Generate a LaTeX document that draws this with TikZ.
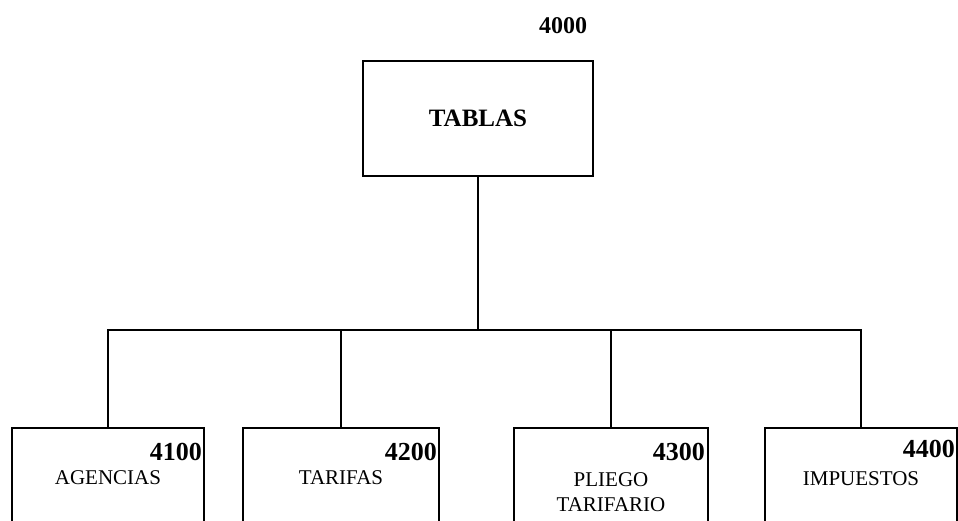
\documentclass[tikz,border=0pt]{standalone}
\usepackage{fontspec}
\setmainfont{Liberation Serif}
\begin{document}
\begin{tikzpicture}[x=1pt,y=1pt,
  box/.style={draw=black,line width=2pt,rectangle,inner sep=0pt,align=center},
  lbl/.style={font=\fontsize{21}{25}\selectfont},
  num/.style={font=\bfseries\fontsize{26}{30}\selectfont,inner sep=0pt,anchor=base east},
  conn/.style={draw=black,line width=2pt}]
\useasboundingbox (0,0) rectangle (958,520);
\clip (0,0) rectangle (958,520);
\fill[white] (0,0) rectangle (958,520);
% top
\node[box,minimum width=230,minimum height=115,font=\bfseries\fontsize{25}{30}\selectfont] (top) at (478,401.5) {TABLAS};
\node[font=\bfseries\fontsize{24}{28}\selectfont,inner sep=0pt] (n4000) at (563,494) {4000};
% bottom boxes
\node[box,lbl,minimum width=192,minimum height=100] (b1) at (108,42) {AGENCIAS};
\node[box,lbl,minimum width=196,minimum height=100] (b2) at (341,42) {TARIFAS};
\node[box,lbl,minimum width=194,minimum height=129] (b3) at (611,27.5) {PLIEGO\\TARIFARIO};
\node[box,lbl,minimum width=192,minimum height=102] (b4) at (861,41) {IMPUESTOS};
\node[num] (n4100) at ([xshift=-3pt]b1.north east |- 0,60) {4100};
\node[num] (n4200) at ([xshift=-3pt]b2.north east |- 0,60) {4200};
\node[num] (n4300) at ([xshift=-4pt]b3.north east |- 0,60) {4300};
\node[num] (n4400) at ([xshift=-3pt]b4.north east |- 0,63) {4400};
% connectors
\coordinate (j) at (478,190);
\draw[conn] (top.south) -- (j);
\draw[conn] (b1.north) |- (j);
\draw[conn] (b2.north) |- (j);
\draw[conn] (b3.north) |- (j);
\draw[conn] (b4.north) |- (j);
\end{tikzpicture}
\end{document}
